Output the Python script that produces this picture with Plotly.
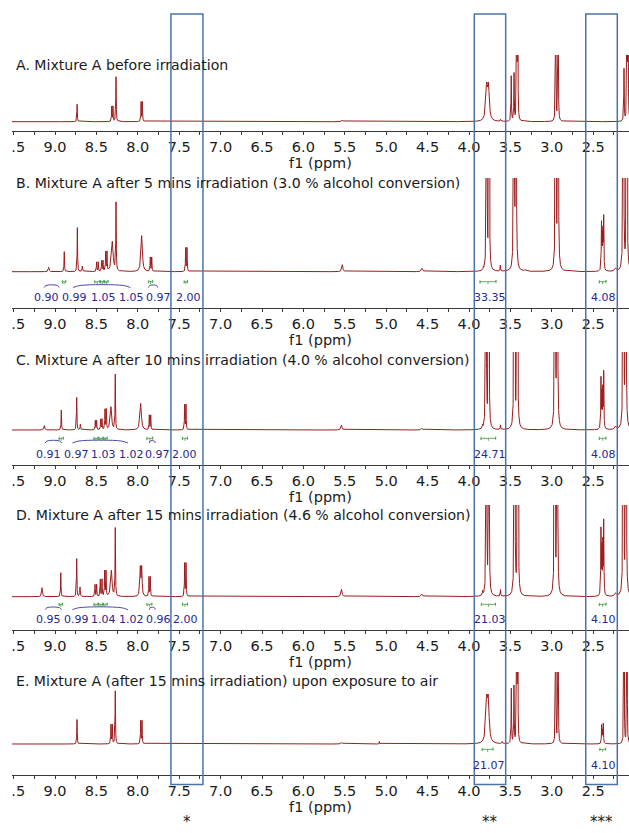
import numpy as np
import plotly.graph_objects as go

# ---------------------------------------------------------------- data
panel_titles = [
    "A. Mixture A before irradiation",
    "B. Mixture A after 5 mins irradiation (3.0 % alcohol conversion)",
    "C. Mixture A after 10 mins irradiation (4.0 % alcohol conversion)",
    "D. Mixture A after 15 mins irradiation (4.6 % alcohol conversion)",
    "E. Mixture A (after 15 mins irradiation) upon exposure to air",
]
axis_title = "f1 (ppm)"
tick_values = [9.5, 9.0, 8.5, 8.0, 7.5, 7.0, 6.5, 6.0, 5.5, 5.0, 4.5, 4.0, 3.5, 3.0, 2.5, 2.0]
tick_labels = ["9.5", "9.0", "8.5", "8.0", "7.5", "7.0", "6.5", "6.0", "5.5", "5.0",
               "4.5", "4.0", "3.5", "3.0", "2.5", "2.0"]

# peak tables: chemical shift (ppm), height (a.u.), half width at half height (ppm)
A_shift = [8.733, 8.315, 8.300, 8.263, 7.960, 7.945, 5.53, 3.787, 3.765, 3.62,
           3.490, 3.456, 3.424, 3.412, 2.953, 2.924, 2.128, 2.092, 2.080]
A_height = [17.5, 15, 15, 45, 19.5, 19.5, 1.5, 32, 32, 2,
            45, 47, 400, 400, 400, 400, 52, 400, 400]
A_width = [0.003, 0.003, 0.003, 0.003, 0.003, 0.003, 0.01, 0.012, 0.012, 0.004,
           0.003, 0.003, 0.0017, 0.0017, 0.0017, 0.0017, 0.003, 0.0017, 0.0017]

B_shift = [9.076, 8.888, 8.730, 8.670, 8.497, 8.477, 8.436, 8.420, 8.388, 8.372,
           8.308, 8.263, 7.953, 7.849, 7.832, 7.422, 7.406, 5.53, 4.568, 3.827,
           3.787, 3.758, 3.622, 3.457, 3.433, 3.32, 2.953, 2.925, 2.400, 2.391,
           2.382, 2.373, 2.23, 2.136, 2.095]
B_height = [4.4, 20, 44, 5.5, 9.5, 9.5, 10.5, 10.5, 19, 19,
            30, 68, 36, 14, 14, 23.5, 23.5, 7, 3.4, 2.5,
            1000, 1000, 6, 1000, 1000, 1.5, 1000, 1000, 46, 32,
            36, 52, 3, 1000, 1000]
B_width = [0.006, 0.003, 0.003, 0.004, 0.003, 0.003, 0.003, 0.003, 0.003, 0.003,
           0.012, 0.003, 0.01, 0.003, 0.003, 0.003, 0.003, 0.008, 0.01, 0.003,
           0.0019, 0.0019, 0.003, 0.0022, 0.0022, 0.01, 0.0022, 0.0022, 0.003, 0.003,
           0.003, 0.003, 0.01, 0.0022, 0.0022]

C_shift = [9.129, 8.924, 8.738, 8.694, 8.513, 8.497, 8.448, 8.432, 8.396, 8.380,
           8.324, 8.272, 7.965, 7.861, 7.844, 7.434, 7.418, 5.54, 4.57, 3.835,
           3.795, 3.762, 3.62, 3.453, 3.417, 2.961, 2.934, 2.406, 2.395, 2.384,
           2.373, 2.23, 2.136, 2.107]
C_height = [4.3, 20, 32.5, 5.5, 9.3, 9.3, 10.5, 10.5, 20, 20,
            23, 55, 26.5, 14.5, 14.5, 25, 25, 5, 1.7, 3,
            1000, 1000, 4.5, 1000, 1000, 1000, 1000, 50, 34, 38,
            56, 3, 1000, 1000]
C_width = [0.006, 0.003, 0.003, 0.004, 0.003, 0.003, 0.003, 0.003, 0.003, 0.003,
           0.01, 0.003, 0.01, 0.003, 0.003, 0.003, 0.003, 0.008, 0.01, 0.003,
           0.0019, 0.0019, 0.003, 0.0022, 0.0022, 0.0022, 0.0022, 0.003, 0.003, 0.003,
           0.003, 0.01, 0.0022, 0.0022]

D_shift = [9.157, 8.930, 8.738, 8.698, 8.517, 8.497, 8.453, 8.432, 8.400, 8.384,
           8.320, 8.272, 7.970, 7.953, 7.865, 7.849, 7.434, 7.418, 5.54, 4.57,
           3.835, 3.790, 3.760, 3.62, 3.450, 3.410, 2.965, 2.934, 2.406, 2.395,
           2.384, 2.373, 2.23, 2.136, 2.104]
D_height = [9, 24, 38, 9.5, 12, 12, 17, 17, 25, 25,
            26, 68, 28, 28, 19.5, 19.5, 33, 33, 7.4, 2.7,
            4, 1000, 1000, 6.5, 1000, 1000, 1000, 1000, 65, 45,
            50, 73, 3, 1000, 1000]
D_width = [0.006, 0.003, 0.003, 0.004, 0.003, 0.003, 0.003, 0.003, 0.003, 0.003,
           0.01, 0.003, 0.006, 0.006, 0.003, 0.003, 0.003, 0.003, 0.008, 0.01,
           0.003, 0.0019, 0.0019, 0.003, 0.0022, 0.0022, 0.0022, 0.0022, 0.003, 0.003,
           0.003, 0.003, 0.01, 0.0022, 0.0022]

E_shift = [8.734, 8.324, 8.308, 8.272, 7.965, 7.949, 5.54, 5.083, 3.787, 3.767,
           3.60, 3.489, 3.457, 3.424, 3.412, 2.953, 2.924, 2.398, 2.388, 2.378,
           2.128, 2.092]
E_height = [24.5, 19, 19, 53, 23, 23, 1.5, 2.5, 39, 39,
            2, 55, 57, 400, 400, 400, 400, 18, 12, 19.5,
            400, 400]
E_width = [0.003, 0.003, 0.003, 0.003, 0.003, 0.003, 0.01, 0.002, 0.012, 0.012,
           0.004, 0.003, 0.003, 0.0017, 0.0017, 0.0017, 0.0017, 0.003, 0.003, 0.003,
           0.0017, 0.0017]

# integration values and where their labels sit (ppm)
B_int_text = ["0.90", "0.99", "1.05", "1.05", "0.97", "2.00", "33.35", "4.08"]
B_int_ppm = [9.10, 8.76, 8.42, 8.08, 7.744, 7.382, 3.746, 2.37]
C_int_text = ["0.91", "0.97", "1.03", "1.02", "0.97", "2.00", "24.71", "4.08"]
C_int_ppm = [9.081, 8.746, 8.417, 8.074, 7.762, 7.43, 3.746, 2.37]
D_int_text = ["0.95", "0.99", "1.04", "1.02", "0.96", "2.00", "21.03", "4.10"]
D_int_ppm = [9.081, 8.746, 8.417, 8.074, 7.752, 7.426, 3.746, 2.37]
E_int_text = ["21.07", "4.10"]
E_int_ppm = [3.755, 2.37]

# integration ranges (ppm, start-end)
B_int_range = [(8.91, 8.87), (8.52, 8.46), (8.45, 8.41), (8.40, 8.36), (7.87, 7.82),
               (7.44, 7.40), (3.867, 3.674), (2.426, 2.345)]
C_int_range = [(8.95, 8.90), (8.53, 8.48), (8.47, 8.42), (8.41, 8.37), (7.89, 7.82),
               (7.46, 7.40), (3.855, 3.678), (2.426, 2.345)]
D_int_range = [(8.95, 8.91), (8.53, 8.48), (8.47, 8.42), (8.42, 8.37), (7.89, 7.83),
               (7.46, 7.40), (3.85, 3.68), (2.426, 2.345)]
E_int_range = [(3.84, 3.71), (2.42, 2.35)]

# label leader arcs (ppm, start-end)
B_leader = [(9.13, 8.95), (8.78, 8.09), (7.87, 7.76)]
C_leader = [(9.12, 8.92), (8.79, 8.12), (7.86, 7.79)]
D_leader = [(9.12, 8.92), (8.79, 8.12), (7.86, 7.79)]

# highlighted regions (ppm) and their markers
region_ppm = [(7.60, 7.213), (3.936, 3.557), (2.59, 2.209)]
region_marks = ["*", "**", "***"]

# ---------------------------------------------------------------- layout
W, H = 629, 833
SPEC = "#9b1c1c"
NAVY = "#27278f"
GREEN = "#3a9a3a"
LEAD = "#4b4ba6"
BOX = "#4a74a8"
FONT = "DejaVu Sans"

# (top of drawing area, spectrum baseline, axis line) in figure pixels
geom = [(55, 121.7, 131), (178, 271.7, 308), (352, 430, 465), (505, 596.7, 630), (672, 744, 775)]
title_px = [65, 183, 360, 515, 681]
label_px = [None, 297.3, 454, 619.3, 765.3]
bracket_px = [None, 281.7, 438.3, 604.3, 749.3]
leader_px = [None, 285.5, 441, 607.7, None]
x_range = [9.5193, 2.0676]
x_dom = [12 / W, 1]

panels = [(A_shift, A_height, A_width), (B_shift, B_height, B_width),
          (C_shift, C_height, C_width), (D_shift, D_height, D_width),
          (E_shift, E_height, E_width)]
int_texts = [None, B_int_text, C_int_text, D_int_text, E_int_text]
int_ppms = [None, B_int_ppm, C_int_ppm, D_int_ppm, E_int_ppm]
int_ranges = [None, B_int_range, C_int_range, D_int_range, E_int_range]
leaders = [None, B_leader, C_leader, D_leader, None]

grid = np.arange(2.0, 9.6, 0.0004)

fig = go.Figure()
annotations = []
layout_axes = {}

for i, ((shift, height, width), (top, base, axis)) in enumerate(zip(panels, geom)):
    k = "" if i == 0 else str(i + 1)
    xa, ya = "x" + k, "y" + k
    y = np.zeros_like(grid)
    for s0, h0, w0 in zip(shift, height, width):
        y += h0 * w0 ** 2 / ((grid - s0) ** 2 + w0 ** 2)
    fig.add_trace(go.Scatter(x=grid, y=y, mode="lines", line=dict(color=SPEC, width=1),
                             xaxis=xa, yaxis=ya, hoverinfo="skip", showlegend=False))

    layout_axes["xaxis" + k] = dict(
        domain=x_dom, range=x_range, anchor=ya, showline=True, linecolor="#3a3a3a",
        linewidth=1, ticks="outside", ticklen=3, tickcolor="#3a3a3a",
        tickvals=tick_values, ticktext=tick_labels, automargin=False,
        tickfont=dict(family=FONT, size=14.5, color="#1a1a1a"),
        minor=dict(dtick=0.25, tick0=0, ticks="outside", ticklen=3, tickcolor="#3a3a3a"),
        showgrid=False, zeroline=False, fixedrange=True,
        title=dict(text=axis_title, font=dict(family=FONT, size=14.5, color="#1a1a1a"), standoff=2),
    )
    layout_axes["yaxis" + k] = dict(
        domain=[1 - axis / H, 1 - top / H], range=[-(axis - base), base - top],
        visible=False, anchor=xa, fixedrange=True, automargin=False,
    )

    annotations.append(dict(text=panel_titles[i], xref="paper", yref="paper",
                            x=14 / W, y=1 - title_px[i] / H, xanchor="left", yanchor="middle",
                            showarrow=False, font=dict(family=FONT, size=14.1, color="#1a1a1a")))

    if int_texts[i]:
        ly = -(label_px[i] - base)
        for t, p in zip(int_texts[i], int_ppms[i]):
            annotations.append(dict(text=t, xref=xa, yref=ya, x=p, y=ly, xanchor="center",
                                    yanchor="middle", showarrow=False,
                                    font=dict(family=FONT, size=11, color=NAVY)))
        # green integration brackets
        by = -(bracket_px[i] - base)
        bx, byy = [], []
        for a, b in int_ranges[i]:
            m = (a + b) / 2
            bx += [a, a, a, b, b, b, None, m, m, None]
            byy += [by + 1.5, by - 1.5, by, by, by + 1.5, by - 1.5, None, by, by - 2.5, None]
        fig.add_trace(go.Scatter(x=bx, y=byy, mode="lines", line=dict(color=GREEN, width=0.8),
                                 xaxis=xa, yaxis=ya, hoverinfo="skip", showlegend=False))
    if leaders[i]:
        ey = -(leader_px[i] - base)
        lx, lyy = [], []
        for a, b in leaders[i]:
            d = (a - b) * 0.12
            lx += [a, a - d, b + d, b, None]
            lyy += [ey - 2, ey, ey, ey - 2, None]
        fig.add_trace(go.Scatter(x=lx, y=lyy, mode="lines", line=dict(color=LEAD, width=1, shape="spline"),
                                 xaxis=xa, yaxis=ya, hoverinfo="skip", showlegend=False))

shapes = []
for (a, b), mark in zip(region_ppm, region_marks):
    shapes.append(dict(type="rect", xref="x", yref="paper", x0=a, x1=b,
                       y0=1 - 784.5 / H, y1=1 - 14 / H, line=dict(color=BOX, width=1.5),
                       fillcolor="rgba(0,0,0,0)", layer="above"))
    annotations.append(dict(text=mark, xref="x", yref="paper", x=(a + b) / 2, y=0,
                            xanchor="center", yanchor="bottom", showarrow=False,
                            font=dict(family=FONT, size=15, color="#1a1a1a")))
# crop of the leftmost tick label, as in the original figure
shapes.append(dict(type="rect", xref="paper", yref="paper", x0=-0.05, x1=11.5 / W, y0=0, y1=1,
                   fillcolor="white", line=dict(width=0), layer="above"))

fig.update_layout(
    template="none",
    width=W, height=H, margin=dict(l=0, r=0, t=0, b=0, pad=0),
    paper_bgcolor="white", plot_bgcolor="white",
    showlegend=False, annotations=annotations, shapes=shapes,
    **layout_axes,
)
fig.write_html("out.html", config={"displayModeBar": False},
               post_script="document.body.style.margin='0px';document.body.style.overflow='hidden';")
